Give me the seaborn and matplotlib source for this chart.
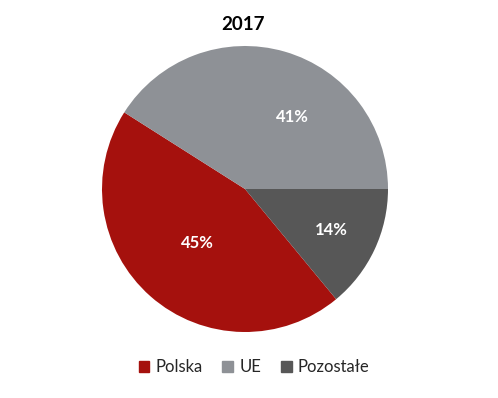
import matplotlib
matplotlib.use("Agg")
import matplotlib.pyplot as plt
import seaborn as sns
import numpy as np

# data
labels = ["Polska", "UE", "Pozostałe"]
shares = [45, 41, 14]
colors = ["#A5110D", "#8E9196", "#575757"]
title = "2017"

sns.set_style("white")
plt.rcParams["font.family"] = ["Lato", "DejaVu Sans"]

fig = plt.figure(figsize=(4.98, 3.98), dpi=100)
ax = fig.add_axes([102 / 498, 66 / 398, 286 / 498, 286 / 398])

wedges, _ = ax.pie(
    shares,
    colors=colors,
    startangle=-50.4,
    counterclock=False,
    radius=1.0,
    wedgeprops=dict(linewidth=0),
)
ax.set_xlim(-1, 1)
ax.set_ylim(-1, 1)
ax.set_aspect("equal")
ax.axis("off")

# percentage labels placed along each wedge's middle angle
label_dist = [0.5, 0.6, 0.67]
label_shift = [0, 17, 0]
for w, s, d, sh in zip(wedges, shares, label_dist, label_shift):
    ang = np.deg2rad((w.theta1 + w.theta2) / 2 - sh)
    ax.text(d * np.cos(ang), d * np.sin(ang), f"{s}%", ha="center", va="center",
            color="white", fontsize=12, fontweight="bold")

fig.text(243 / 498, 1 - 25 / 398, title, ha="center", va="center",
         fontsize=13.5, fontweight="bold", color="black")

handles = [plt.Rectangle((0, 0), 1, 1, color=c) for c in colors]
fig.legend(handles, labels, loc="center", bbox_to_anchor=(254 / 498, 1 - 367 / 398),
           ncol=3, frameon=False, fontsize=12, handlelength=0.65, handleheight=0.65,
           handletextpad=0.35, columnspacing=1.2)

fig.savefig("out.png", dpi=100)
